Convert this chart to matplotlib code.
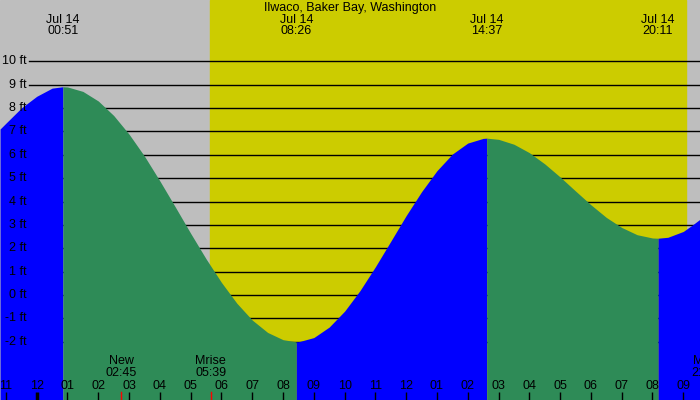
import numpy as np
import matplotlib
matplotlib.use("Agg")
import matplotlib.pyplot as plt

plt.rcParams["font.family"] = ["Liberation Sans", "DejaVu Sans"]

# tide height (ft), hours after midnight Jul 14
tide_hours = [-1.19, -1.0, -0.5, 0.0, 0.5, 0.85,
              1.0, 1.5, 2.0, 2.5, 3.0, 3.5, 4.0, 4.5, 5.0, 5.5, 6.0, 6.5, 7.0, 7.5, 8.0, 8.43,
              8.5, 9.0, 9.5, 10.0, 10.5, 11.0, 11.5, 12.0, 12.5, 13.0, 13.5, 14.0, 14.5, 14.62,
              15.0, 15.5, 16.0, 16.5, 17.0, 17.5, 18.0, 18.5, 19.0, 19.5, 20.0, 20.18,
              20.5, 21.0, 21.3, 21.55]
tide_ft = [7.1, 7.35, 8.0, 8.5, 8.85, 8.91,
           8.90, 8.71, 8.30, 7.68, 6.88, 5.94, 4.88, 3.77, 2.64, 1.55, 0.54, -0.35, -1.07, -1.60, -1.91, -2.0,
           -2.0, -1.82, -1.37, -0.69, 0.19, 1.21, 2.30, 3.40, 4.42, 5.32, 6.03, 6.50, 6.70, 6.71,
           6.66, 6.45, 6.09, 5.61, 5.05, 4.45, 3.86, 3.32, 2.89, 2.58, 2.44, 2.43,
           2.47, 2.72, 3.0, 3.25]

# high / low tide times and labels
extreme_hours = [0.85, 8.43, 14.62, 20.18]
extreme_labels = ["Jul 14\n00:51", "Jul 14\n08:26", "Jul 14\n14:37", "Jul 14\n20:11"]

# sun and moon
sunrise, sunset = 5.635, 21.09
moon_hours = [2.75, 5.65, 21.77]
moon_labels = ["New\n02:45", "Mrise\n05:39", "Mset\n21:46"]

hour_ticks = list(range(-1, 22))
hour_labels = ["%02d" % ((h - 1) % 12 + 1) for h in hour_ticks]
ft_levels = list(range(-2, 11))

title = "Ilwaco, Baker Bay, Washington"

GRAY = "#bebebe"
YELLOW = "#cccc00"
BLUE = "#0000ff"
GREEN = "#2e8b57"
FS = 9

fig = plt.figure(figsize=(7, 4), dpi=100)
ax = fig.add_axes([0, 0, 1, 1])
xmin, xmax = -1.192, 21.543
ymin, ymax = -4.49, 12.62
ax.set_xlim(xmin, xmax)
ax.set_ylim(ymin, ymax)
ax.axis("off")

ax.axvspan(xmin, xmax, color=GRAY, zorder=0)
ax.axvspan(sunrise, sunset, color=YELLOW, zorder=0.5)

for lv in ft_levels:
    ax.axhline(lv, xmin=29 / 700, xmax=1, color="black", lw=1, zorder=1)
    ax.text(-0.32, lv, "%d ft" % lv, ha="right", va="center", fontsize=FS, zorder=4)

h = np.array(tide_hours)
v = np.array(tide_ft)
bounds = [xmin - 1] + extreme_hours + [xmax + 1]
for i in range(len(bounds) - 1):
    m = (h >= bounds[i]) & (h <= bounds[i + 1])
    col = BLUE if i % 2 == 0 else GREEN
    ax.fill_between(h[m], v[m], ymin, color=col, lw=0, zorder=2)

tr = ax.get_xaxis_transform()
ax.text((xmin + xmax) / 2, 1 - 7.5 / 400, title, transform=tr, ha="center", va="center",
        fontsize=FS, zorder=4)
for t, lab in zip(extreme_hours, extreme_labels):
    ax.text(t, 1 - 25.5 / 400, lab, transform=tr, ha="center", va="center",
            fontsize=FS, linespacing=0.9, zorder=4)

for t, lab in zip(moon_hours, moon_labels):
    ax.plot([t, t], [0, 8 / 400], color="red", lw=1, transform=tr, zorder=3)
    ax.text(t, 33 / 400, lab, transform=tr, ha="center", va="center",
            fontsize=FS, linespacing=0.9, zorder=4)

for t, lab in zip(hour_ticks, hour_labels):
    lw = 2.5 if t == 0 else 1
    ax.plot([t, t], [0, 8 / 400], color="black", lw=lw, transform=tr, zorder=3,
            solid_capstyle="butt")
    ax.text(t, 14 / 400, lab, transform=tr, ha="center", va="center", fontsize=FS, zorder=4)

fig.savefig("out.png", dpi=100)
